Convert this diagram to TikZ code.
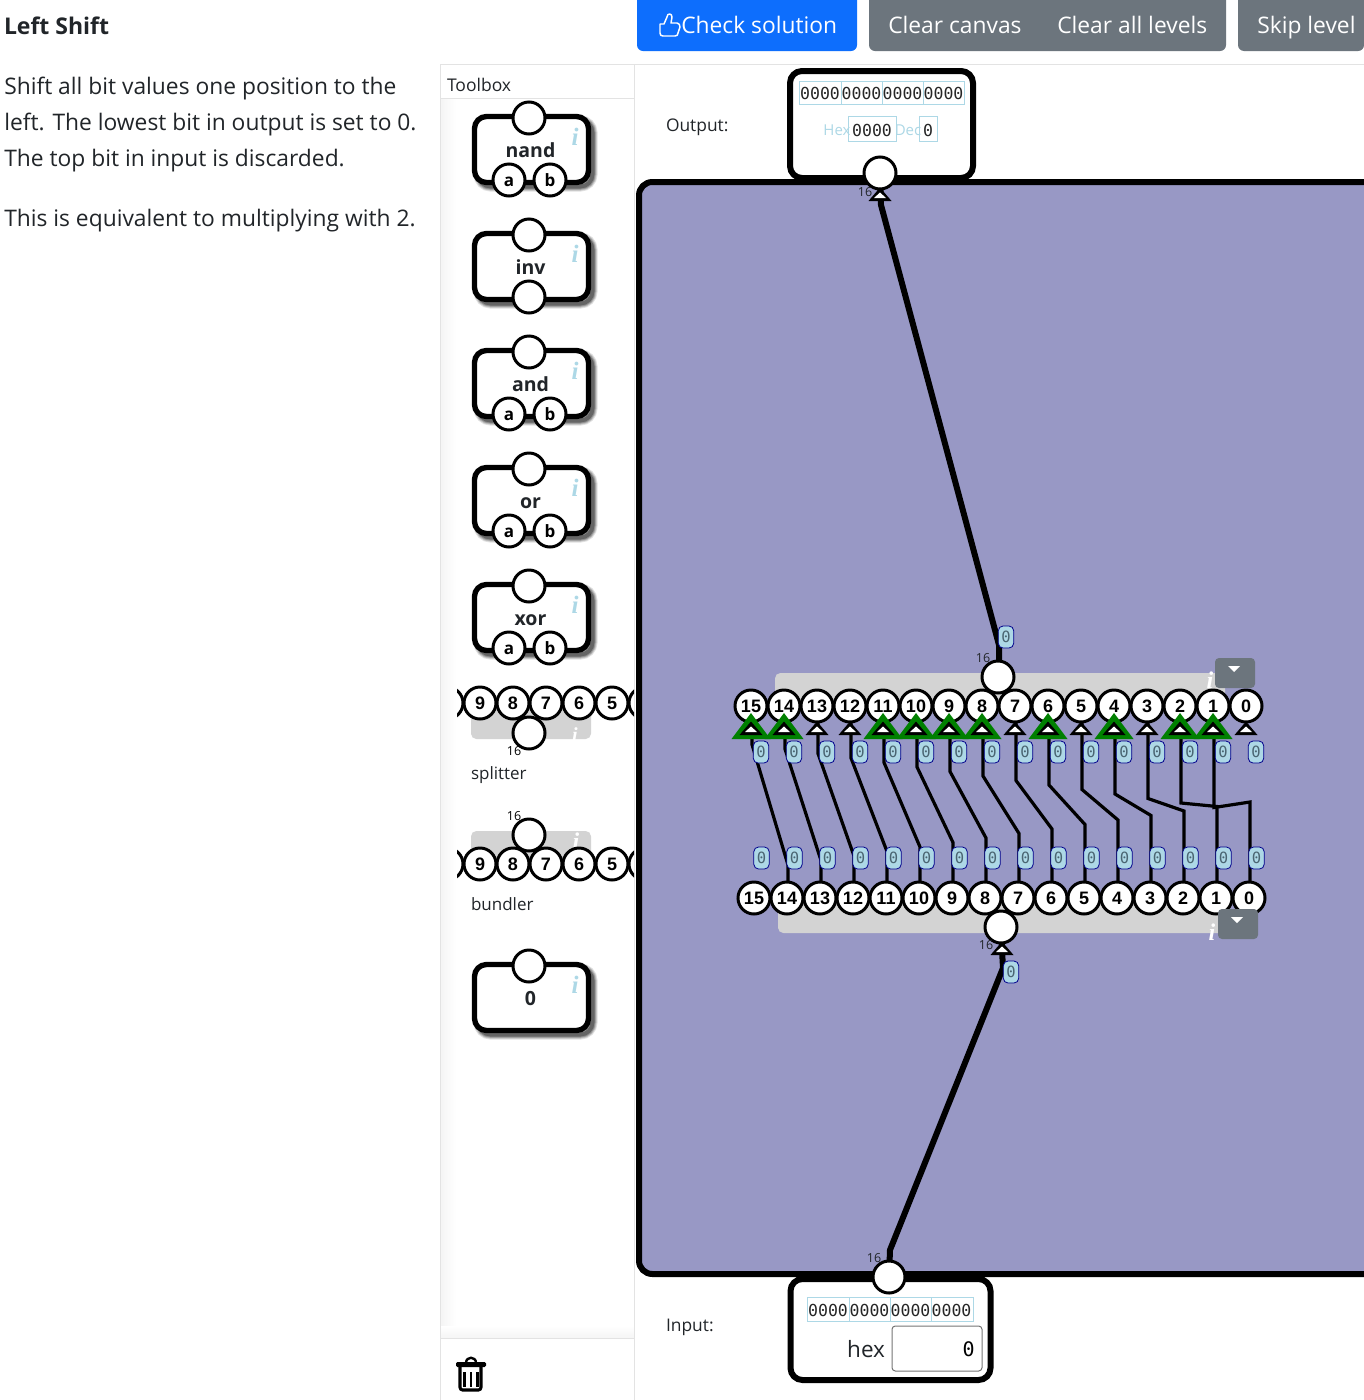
\documentclass[tikz,border=0pt]{standalone}
\usepackage{fontspec}
\usetikzlibrary{calc}
\setmainfont{Open Sans}
\newfontfamily\monof{DejaVu Sans Mono}
\newfontfamily\arialf{Liberation Sans}
\newfontfamily\serf{Liberation Serif}
\newcommand\fpx[1]{\fontsize{\dimexpr#1pt*3/4\relax}{\dimexpr#1pt\relax}\selectfont}
\definecolor{canvasc}{HTML}{9898C5}
\definecolor{blueb}{HTML}{0D6EFD}
\definecolor{grayb}{HTML}{6C757D}
\definecolor{lbl}{HTML}{ADD8E6}
\definecolor{lbln}{HTML}{00008B}
\definecolor{lbt}{HTML}{4A6572}
\definecolor{inkc}{HTML}{212529}
\definecolor{panelc}{HTML}{E3E3E3}
\definecolor{grayrect}{HTML}{D3D3D3}
\definecolor{okgreen}{HTML}{008000}
\pgfdeclarelayer{base}
\pgfdeclarelayer{wires}
\pgfsetlayers{base,wires,main}
\tikzset{
  px/.style={x=.75pt,y=-.75pt},
  txt/.style={inner sep=0,outer sep=0,text=inkc},
  pin/.style={circle,draw=black,fill=white,line width=2.25pt,minimum size=24pt,inner sep=0,text=black,text height=9.6pt,text depth=0pt,font=\arialf\bfseries\fpx{18}},
  abpin/.style={pin,text height=9pt,font=\bfseries\fpx{17}},
  wire/.style={draw=black,line width=2.4pt},
  bigwire/.style={draw=black,line width=4.5pt},
  bitlabel/.style={draw=lbln,fill=lbl,line width=.6pt,rounded corners=3.5pt,minimum width=11.5pt,minimum height=16.5pt,inner sep=0,text=lbt,font=\monof\fpx{15.5}},
  bitcell/.style={draw=lbl,line width=.75pt},
  bittext/.style={inner sep=0,text=black!85,font=\monof\fpx{16.5}},
  widthlabel/.style={inner sep=0,text=inkc,font=\fpx{12.5}},
  whitei/.style={inner sep=0,text=white,font=\serf\bfseries\itshape\fpx{24}},
  bluei/.style={inner sep=0,text=lbl,font=\serf\bfseries\itshape\fpx{25}},
  boxline/.style={draw=black,line width=4.5pt,fill=white,rounded corners=9pt},
  btntext/.style={inner sep=0,text=white,anchor=base west,font=\fpx{22.8}},
  bodytext/.style={inner sep=0,text=inkc,anchor=base west,font=\fpx{22.8}},
}
\newcommand\tinytri[2]{%
  \fill[black] (#1,#2-13.5) -- (#1-11.5,#2) -- (#1+11.5,#2) -- cycle;
  \fill[white] (#1,#2-8.5) -- (#1-6,#2-3) -- (#1+6,#2-3) -- cycle;}
\newcommand\greentri[2]{%
  \fill[okgreen] (#1,#2-22) -- (#1-19.5,#2+4) -- (#1+19.5,#2+4) -- cycle;}
\newcommand\gatebox[4]{% name, y of rect top, label, pin kind
  \begin{scope}[shift={(0,#2)}]
    \foreach \w/\o in {10/.12,8/.16,6/.22,4/.30}{
      \draw[black,opacity=\o,line width=\w*.75pt,rounded corners=9pt] (478.5,6.5) rectangle (592.5,72.5);
    }
    \draw[boxline,line width=4pt] (474.5,2.5) rectangle (588.5,68.5);
    \node[bluei] (#1i) at (575,23) {i};
    \node[inner sep=0,text=inkc,anchor=base,font=\bfseries\fpx{19.5}] (#1l) at (530.5,43) {#3};
    \node[pin] (#1o) at (529,4) {};
    \ifnum#4=1
      \node[abpin] (#1a) at (509,66) {a};
      \node[abpin] (#1b) at (550,66) {b};
    \fi
    \ifnum#4=2
      \node[pin] (#1a) at (529,66) {};
    \fi
  \end{scope}}
\begin{document}
\begin{tikzpicture}[px]
\useasboundingbox (0,0) rectangle (1364,1400);
\begin{pgfonlayer}{base}
  \fill[white] (0,0) rectangle (1364,1400);
  % panel
  \shade[left color=black!4,right color=white] (441,99) rectangle (456,1338);
  \shade[top color=white,bottom color=black!4] (441,1326) rectangle (634,1338);
  \draw[panelc,line width=.75pt] (440,1400) -- (440,64) -- (1364,64);
  \draw[panelc,line width=.75pt] (634,64) -- (634,1400);
  \draw[panelc,line width=.75pt] (440,98) -- (634,98);
  \draw[panelc,line width=.75pt] (440,1338) -- (634,1338);
  % canvas
  \path[fill=canvasc,draw=black,line width=4.5pt,rounded corners=10pt] (1364,182) -- (639,182) -- (639,1274) -- (1364,1274);
  % output and input boxes
  \draw[boxline] (790,71) rectangle (973,178);
  \draw[boxline] (790.5,1279) rectangle (990.5,1380);
  % gray bodies
  \fill[grayrect,rounded corners=4pt] (775,673) rectangle (1225,708);
  \fill[grayrect,rounded corners=4pt] (778,898) rectangle (1228,933);
\end{pgfonlayer}

% header
\node[txt,anchor=base west,font=\bfseries\fpx{23}] (title) at (4,34) {Left Shift};
\path[fill=blueb,rounded corners=4.5pt] (637,0) -- (637,51) -- (857,51) -- (857,0);
\path[fill=grayb,rounded corners=4.5pt] (869,0) -- (869,51) -- (1226,51) -- (1226,0);
\path[fill=grayb,rounded corners=4.5pt] (1238,0) -- (1238,51) -- (1364,51) -- (1364,0);
\draw[white,line width=1.1pt,line join=round] (660,24) -- (660,33) .. controls (660,35) and (661,36) .. (663,36) -- (675,36) .. controls (677,36) and (678,35) .. (678,33) -- (680,27) .. controls (680,25) and (679,23) .. (677,23) -- (671,23) -- (672,17) .. controls (672,13) and (667,13) .. (667,17) -- (664,24) -- cycle;
\node[btntext] (check) at (681,33) {Check solution};
\node[btntext] (clearc) at (888,33) {Clear canvas};
\node[btntext] (clearl) at (1057,33) {Clear all levels};
\node[btntext] (skip) at (1257,33) {Skip level};

% description
\node[bodytext] (d1) at (4,94) {Shift all bit values one position to the};
\node[bodytext] (d2) at (4,130) {left. The lowest bit in output is set to 0.};
\node[bodytext] (d3) at (4,166) {The top bit in input is discarded.};
\node[bodytext] (d4) at (4,226) {This is equivalent to multiplying with 2.};

% toolbox
\node[txt,anchor=base west,font=\fpx{17.5}] (toolbox) at (447,91) {Toolbox};
\gatebox{nand}{114}{nand}{1}
\gatebox{inv}{231}{inv}{2}
\gatebox{and}{348}{and}{1}
\gatebox{or}{465}{or}{1}
\gatebox{xor}{582}{xor}{1}
\gatebox{zero}{962}{0}{0}

% toolbox splitter and bundler
\fill[grayrect,rounded corners=4pt] (471,703) rectangle (591,739);
\fill[grayrect,rounded corners=4pt] (471,831) rectangle (591,864);
\node[whitei,font=\serf\bfseries\itshape\fpx{20}] (tsi) at (575,735) {i};
\node[whitei,font=\serf\bfseries\itshape\fpx{24}] (tbi) at (576,841) {i};
\begin{scope}
  \clip (457,680) rectangle (634,890);
  \foreach \n/\x in {10/447,9/480,8/513,7/546,6/579,5/612,4/645}{
    \node[pin] (ts\n) at (\x,703) {\n};
    \node[pin] (tb\n) at (\x,864) {\n};
  }
\end{scope}
\node[pin] (tsbig) at (529,733) {};
\node[pin] (tbbig) at (529,835) {};
\node[widthlabel,text=black] (ts16) at (514,751) {16};
\node[widthlabel,text=black] (tb16) at (514,816) {16};
\node[txt,anchor=base west,font=\fpx{17}] (splitname) at (471,779) {splitter};
\node[txt,anchor=base west,font=\fpx{17}] (bundlename) at (471,910) {bundler};

% trash
\draw[black,line width=2.3pt,rounded corners=2pt] (460,1367) -- (460,1390) -- (481,1390) -- (481,1367);
\fill[black,rounded corners=1pt] (456,1362) rectangle (486,1367);
\draw[black,line width=1.8pt] (466,1363) .. controls (466,1356) and (476,1356) .. (476,1363);
\foreach \x in {464.5,471,477.5}{\draw[black,line width=2pt] (\x,1372) -- (\x,1387);}

% canvas labels
\node[txt,anchor=base west,font=\fpx{17.4}] (outname) at (666,131) {Output:};
\node[txt,anchor=base west,font=\fpx{17.4}] (inname) at (666,1331) {Input:};

% output box
\draw[bitcell] (799,81) rectangle (964,104);
\foreach \x in {841,882,923}{\draw[bitcell] (\x,81) -- (\x,104);}
\foreach \x/\n in {820/a,861.5/b,902.5/c,943.5/d}{\node[bittext] (ob\n) at (\x,93.5) {0000};}
\node[inner sep=0,text=lbl,font=\fpx{15}] (hexo) at (837,130) {Hex};
\draw[bitcell] (848,116) rectangle (896,141);
\node[bittext] (hexv) at (872,130) {0000};
\node[inner sep=0,text=lbl,font=\fpx{15}] (deco) at (908,130) {Dec};
\draw[bitcell] (919,116) rectangle (937,141);
\node[bittext] (decv) at (928,130) {0};

% input box
\draw[bitcell] (807,1297) rectangle (973,1321);
\foreach \x in {849,890,931}{\draw[bitcell] (\x,1297) -- (\x,1321);}
\foreach \x/\n in {828/a,869.5/b,910.5/c,951.5/d}{\node[bittext] (ib\n) at (\x,1310) {0000};}
\node[txt,anchor=base east,font=\fpx{22.5}] (hexlab) at (885,1357) {hex};
\draw[draw=black!54,fill=white,line width=.75pt,rounded corners=2.5pt] (892,1326) rectangle (982,1371);
\node[inner sep=0,anchor=east,text=black,font=\monof\fpx{20}] (inval) at (975,1349) {0};

% pins on canvas
\node[pin] (outpin) at (880,173) {};
\node[pin] (inpin) at (889,1277) {};
\foreach \k in {15,...,0}{
  \pgfmathsetmacro\xt{751+33*(15-\k)}
  \pgfmathsetmacro\xb{754+33*(15-\k)}
  \node[pin] (t\k) at (\xt,706) {\k};
  \node[pin] (b\k) at (\xb,898) {\k};
}
\node[pin] (sbig) at (998,677) {};

% triangles
\foreach \k in {15,14,11,10,9,8,6,4,2,1}{
  \pgfmathsetmacro\xt{751+33*(15-\k)}
  \greentri{\xt}{735}
}
\foreach \k in {15,...,0}{
  \pgfmathsetmacro\xt{751+33*(15-\k)}
  \tinytri{\xt}{735}
}
\tinytri{880}{201}
\tinytri{1002}{955}
\node[pin] (bbig) at (1001,927) {};

% wires
\begin{pgfonlayer}{wires}
  \foreach \k in {15,...,1}{
    \pgfmathtruncatemacro\j{\k-1}
    \pgfmathsetmacro\ya{812-4.5*\k}
    \pgfmathsetmacro\yb{802+4.5*\j}
    \pgfmathsetmacro\xt{752+33*(15-\k)}
    \pgfmathsetmacro\xb{755+33*(15-\j)}
    \draw[wire] ($(t\k.center)+(1,0)$) -- (\xt,\ya) -- (\xb,\yb) -- ($(b\j.center)+(1,0)$);
  }
  \draw[bigwire] (sbig.center) -- (999,670) -- (999,645) -- (881,205) -- (outpin.center);
  \draw[bigwire] (inpin.center) -- (890,1250) -- (1003,968) -- (1002,950) -- (bbig.center);
\end{pgfonlayer}

% value labels
\foreach \k in {0,...,15}{
  \pgfmathsetmacro\xa{761+33*\k}
  \pgfmathsetmacro\xc{761.5+33*\k}
  \node[bitlabel] (lt\k) at (\xa,752) {0};
  \node[bitlabel] (lb\k) at (\xc,858) {0};
}
\node[bitlabel] (lout) at (1006,637) {0};
\node[bitlabel] (lin) at (1011,972) {0};

% width labels
\node[widthlabel] (w1) at (865,192) {16};
\node[widthlabel] (w2) at (983,658) {16};
\node[widthlabel] (w3) at (986,945.5) {16};
\node[widthlabel] (w4) at (874,1258) {16};

% white i marks and dropdowns
\node[whitei] (si) at (1210,680) {i};
\node[whitei] (bi) at (1212,932) {i};
\path[fill=grayb,rounded corners=3pt] (1215,658) rectangle (1255,688);
\fill[white] (1228,666) -- (1240,666) -- (1234,672) -- cycle;
\path[fill=grayb,rounded corners=3pt] (1218,909) rectangle (1258,939);
\fill[white] (1231,917) -- (1243,917) -- (1237,923) -- cycle;
\end{tikzpicture}
\end{document}
